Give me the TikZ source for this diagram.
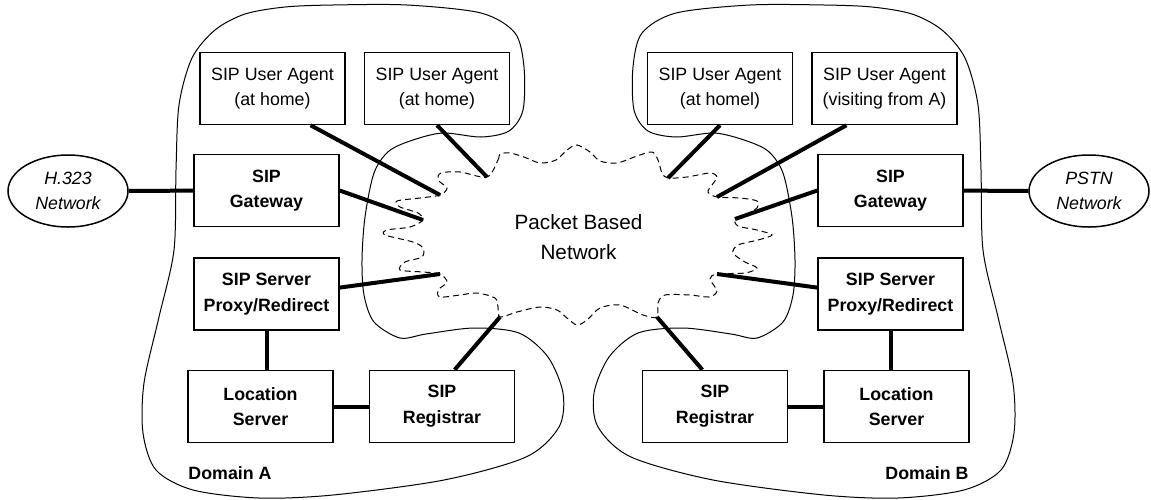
\documentclass[tikz,border=0pt]{standalone}
\usepackage{fontspec}
\setmainfont{Liberation Sans}
\usepackage{tikz}
\usetikzlibrary{positioning,shapes.geometric}

% outline of one domain, drawn again mirrored for the other
\newcommand{\zoneoutline}{plot[smooth cycle] coordinates {(285,7) (333,5) (407,5) (481,13) (515,33) (524,67) (523,110) (509,131) (481,137) (443,133) (413,140) (389,151) (374,173) (365,217) (362,260) (364,295) (374,322) (400,338) (426,334) (474,328) (519,333) (548,357) (563,393) (559,427) (526,457) (444,480) (333,495) (259,498) (193,490) (156,470) (143,433) (144,383) (159,317) (174,250) (176,170) (179,105) (192,58) (215,30) (245,14)}}

\begin{document}
\begin{tikzpicture}[x=0.5pt, y=-0.5pt,
    every node/.style={font=\fontsize{8.9}{12.85}\selectfont},
    box/.style={draw, rectangle, line width=0.75pt, minimum width=72.5pt, minimum height=36pt, inner sep=0pt, align=center},
    bbox/.style={box, font=\fontsize{8.9}{12.85}\selectfont\bfseries},
    net/.style={draw, ellipse, line width=0.75pt, minimum width=60pt, minimum height=36pt, inner sep=0pt, align=center, font=\fontsize{8.9}{12.5}\selectfont\itshape},
    link/.style={line width=2pt},
    zone/.style={line width=0.5pt},
    cloudline/.style={line width=0.5pt, dash pattern=on 3pt off 2pt}]
  \useasboundingbox (0,0) rectangle (1151,499);

  % domains
  \draw[zone] \zoneoutline;
  \begin{scope}[shift={(1157,0)}, xscale=-1]
    \draw[zone] \zoneoutline;
  \end{scope}

  % user agents
  \node[box] (ua1) at (272.5,88.5) {SIP User Agent\\(at home)};
  \node[box, right=9pt of ua1] (ua2) {SIP User Agent\\(at home)};
  \node[box] (ua4) at (884.5,88.5) {SIP User Agent\\(visiting from A)};
  \node[box, left=9pt of ua4] (ua3) {SIP User Agent\\(at homel)};

  % gateways and servers
  \node[bbox] (gwA) at (266.5,190.5) {SIP\\Gateway};
  \node[bbox, below=15pt of gwA] (srvA) {SIP Server\\Proxy/Redirect};
  \node[bbox] (gwB) at (890.5,190.5) {SIP\\Gateway};
  \node[bbox, below=15pt of gwB] (srvB) {SIP Server\\Proxy/Redirect};
  \node[bbox] (locA) at (260.5,406.5) {Location\\Server};
  \node[bbox, right=17.5pt of locA] (regA) {SIP\\Registrar};
  \node[bbox] (locB) at (896.5,406.5) {Location\\Server};
  \node[bbox, left=17.5pt of locB] (regB) {SIP\\Registrar};

  % outside networks
  \node[net] (h323) at (68,191) {H.323\\Network};
  \node[net] (pstn) at (1089,191) {PSTN\\Network};

  \node[font=\fontsize{10.35}{15}\selectfont, align=center] (pbn) at (578.5,237.5) {Packet Based\\Network};
  \node[font=\fontsize{8.9}{12.85}\selectfont\bfseries] (domA) at (230,473) {Domain A};
  \node[font=\fontsize{8.9}{12.85}\selectfont\bfseries] (domB) at (927,473) {Domain B};

  % where the links meet the cloud
  \coordinate (cUA1) at (440,195);
  \coordinate (cUA2) at (487,177);
  \coordinate (cUA3) at (668,178);
  \coordinate (cUA4) at (717,197);
  \coordinate (cGwA) at (423,220);
  \coordinate (cGwB) at (735,219);
  \coordinate (cSrvA) at (440,274);
  \coordinate (cSrvB) at (717,274);
  \coordinate (cRegA) at (500,317);
  \coordinate (cRegB) at (657,317);

  % packet network
  \draw[cloudline] plot[smooth cycle] coordinates {(cUA2) (498,160) (500,154) (510,153) (524,157) (540,163) (556,160) (567,150) (577,145) (590,152) (600,161) (617,163) (637,156) (652,152) (658,160) (662,173) (cUA3) (687,177) (710,173) (717,177) (712,185) (708,192) (cUA4) (740,198) (757,201) (757,208) (745,215) (cGwB) (738,226) (757,230) (772,235) (758,240) (738,245) (733,253) (745,262) (757,268) (745,273) (cSrvB) (710,279) (717,291) (709,297) (690,295) (665,295) (658,303) (cRegB) (643,315) (620,305) (600,308) (587,320) (577,325) (567,318) (557,310) (540,307) (517,312) (cRegA) (498,307) (495,298) (477,293) (460,295) (440,297) (438,290) (447,282) (cSrvA) (423,272) (400,270) (405,262) (422,257) (423,248) (413,242) (385,235) (387,230) (410,227) (cGwA) (418,213) (400,207) (397,201) (420,198) (cUA1) (447,188) (438,180) (441,173) (460,172)};

  % links
  \draw[link] (ua1.-44) -- (cUA1);
  \draw[link] (ua2.south) -- (cUA2);
  \draw[link] (ua3.south) -- (cUA3);
  \draw[link] (ua4.-136) -- (cUA4);
  \draw[link] (gwA.east) -- (cGwA);
  \draw[link] (gwB.west) -- (cGwB);
  \draw[link] (srvA.5) -- (cSrvA);
  \draw[link] (srvB.175) -- (cSrvB);
  \draw[link] (regA.71) -- (cRegA);
  \draw[link] (regB.109) -- (cRegB);
  \draw[link] (h323) -- (gwA);
  \draw[link] (gwB) -- (pstn);
  \draw[link] (srvA.south) -- (srvA.south |- locA.north);
  \draw[link] (srvB.south) -- (srvB.south |- locB.north);
  \draw[link] (locA) -- (regA);
  \draw[link] (regB) -- (locB);
\end{tikzpicture}
\end{document}
